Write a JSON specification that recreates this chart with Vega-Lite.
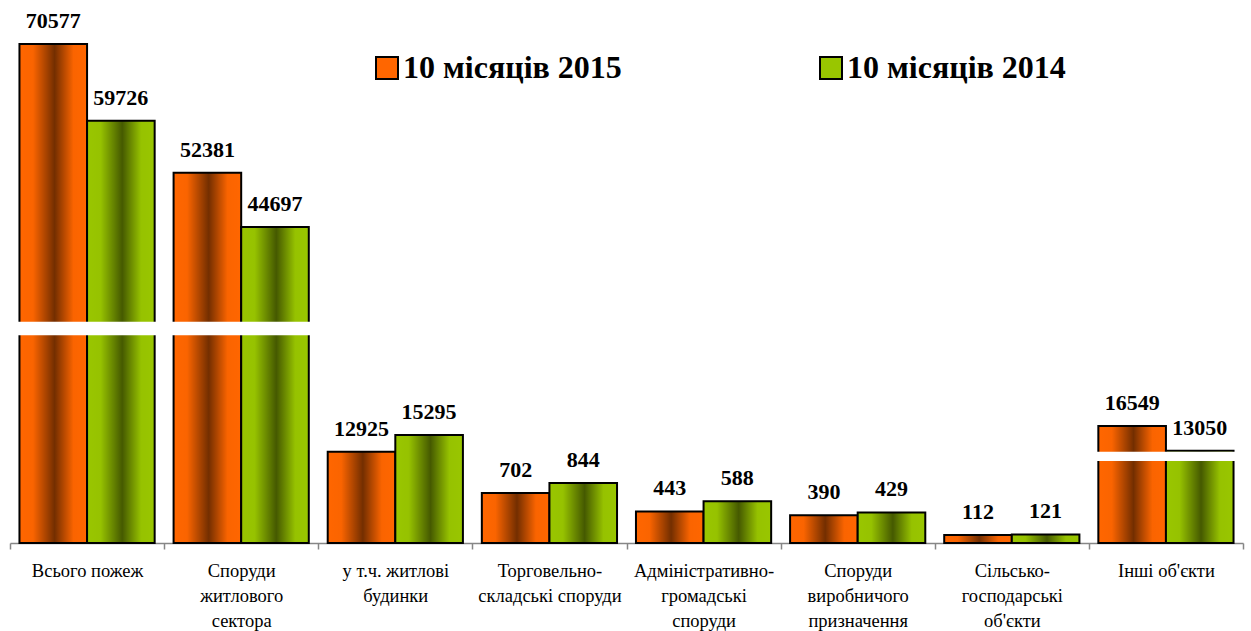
{
  "$schema": "https://vega.github.io/schema/vega-lite/v6.json",
  "width": 1233,
  "height": 533,
  "autosize": {"type": "none"},
  "padding": {"left": 10, "top": 10, "right": 8, "bottom": 88},
  "background": "white",
  "config": {"view": {"stroke": null}, "font": "Liberation Serif"},
  "datasets": {
    "fires": [
      {"category": "Всього пожеж", "period": "10 місяців 2015", "value": 70577},
      {"category": "Всього пожеж", "period": "10 місяців 2014", "value": 59726},
      {"category": "Споруди|житлового|сектора", "period": "10 місяців 2015", "value": 52381},
      {"category": "Споруди|житлового|сектора", "period": "10 місяців 2014", "value": 44697},
      {"category": "у т.ч. житлові|будинки", "period": "10 місяців 2015", "value": 12925},
      {"category": "у т.ч. житлові|будинки", "period": "10 місяців 2014", "value": 15295},
      {"category": "Торговельно-|складські споруди", "period": "10 місяців 2015", "value": 702},
      {"category": "Торговельно-|складські споруди", "period": "10 місяців 2014", "value": 844},
      {"category": "Адміністративно-|громадські|споруди", "period": "10 місяців 2015", "value": 443},
      {"category": "Адміністративно-|громадські|споруди", "period": "10 місяців 2014", "value": 588},
      {"category": "Споруди|виробничого|призначення", "period": "10 місяців 2015", "value": 390},
      {"category": "Споруди|виробничого|призначення", "period": "10 місяців 2014", "value": 429},
      {"category": "Сільсько-|господарські|об'єкти", "period": "10 місяців 2015", "value": 112},
      {"category": "Сільсько-|господарські|об'єкти", "period": "10 місяців 2014", "value": 121},
      {"category": "Інші об'єкти", "period": "10 місяців 2015", "value": 16549},
      {"category": "Інші об'єкти", "period": "10 місяців 2014", "value": 13050}
    ],
    "breaks": [
      {"category": "Всього пожеж", "lo": 29400, "hi": 31300},
      {"category": "Споруди|житлового|сектора", "lo": 29400, "hi": 31300},
      {"category": "Інші об'єкти", "lo": 10500, "hi": 12900}
    ]
  },
  "encoding": {
    "x": {
      "field": "category",
      "type": "nominal",
      "sort": null,
      "scale": {
        "domain": ["Всього пожеж", "Споруди|житлового|сектора", "у т.ч. житлові|будинки", "Торговельно-|складські споруди", "Адміністративно-|громадські|споруди", "Споруди|виробничого|призначення", "Сільсько-|господарські|об'єкти", "Інші об'єкти"],
        "paddingInner": 0,
        "paddingOuter": 0
      },
      "axis": {
        "title": null,
        "labelAngle": 0,
        "labelExpr": "split(datum.label, '|')",
        "labelFont": "Liberation Serif",
        "labelFontSize": 18.5,
        "labelColor": "black",
        "labelLineHeight": 25,
        "labelBaseline": "top",
        "labelPadding": 12,
        "labelLimit": 300,
        "tickBand": "extent",
        "tickSize": 6,
        "tickColor": "#868686",
        "domainColor": "#868686",
        "domainWidth": 1.5,
        "tickWidth": 1.5,
        "grid": false
      }
    },
    "y": {
      "field": "value",
      "type": "quantitative",
      "scale": {"domain": [0, 900, 12000, 75000], "range": [533, 469, 448.2, 2.7], "nice": false, "zero": false},
      "axis": null
    },
    "xOffset": {"field": "period", "type": "nominal", "sort": null, "scale": {"domain": ["10 місяців 2015", "10 місяців 2014"], "paddingInner": 0, "paddingOuter": 0.14}}
  },
  "layer": [
    {
      "data": {"name": "fires"},
      "mark": {"type": "bar", "stroke": "black", "strokeWidth": 2},
      "encoding": {
        "color": {
          "field": "period",
          "type": "nominal",
          "sort": null,
          "scale": {"domain": ["10 місяців 2015", "10 місяців 2014"], "range": ["#FF6600", "#99C600"]},
          "legend": {
            "title": null,
            "orient": "none",
            "legendX": 361,
            "legendY": 42,
            "direction": "horizontal",
            "columns": 2,
            "columnPadding": 193,
            "padding": 0,
            "symbolType": "square",
            "symbolSize": 484,
            "symbolStrokeColor": "black",
            "symbolStrokeWidth": 2,
            "symbolOpacity": 1,
            "labelFont": "Liberation Serif",
            "labelFontSize": 32,
            "labelFontWeight": "bold",
            "labelColor": "black",
            "labelOffset": 0,
            "labelLimit": 400
          }
        }
      }
    },
    {
      "data": {"name": "fires"},
      "mark": {
        "type": "bar",
        "strokeWidth": 0,
        "fill": {"gradient": "linear", "x1": 0, "y1": 0, "x2": 1, "y2": 0, "stops": [
          {"offset": 0, "color": "rgba(0,0,0,0)"},
          {"offset": 0.2, "color": "rgba(0,0,0,0.02)"},
          {"offset": 0.52, "color": "rgba(0,0,0,0.55)"},
          {"offset": 0.8, "color": "rgba(0,0,0,0.02)"},
          {"offset": 1, "color": "rgba(0,0,0,0)"}
        ]}
      },
      "encoding": {}
    },
    {
      "data": {"name": "breaks"},
      "mark": {"type": "bar", "color": "white", "width": {"band": 0.9}},
      "encoding": {
        "y": {"field": "lo", "type": "quantitative"},
        "y2": {"field": "hi"},
        "xOffset": null
      }
    },
    {
      "data": {"name": "fires"},
      "mark": {"type": "text", "dy": -16, "baseline": "alphabetic", "fontSize": 22, "fontWeight": "bold", "font": "Liberation Serif", "color": "black"},
      "encoding": {
        "text": {"field": "value", "type": "quantitative", "format": "d"}
      }
    }
  ]
}
